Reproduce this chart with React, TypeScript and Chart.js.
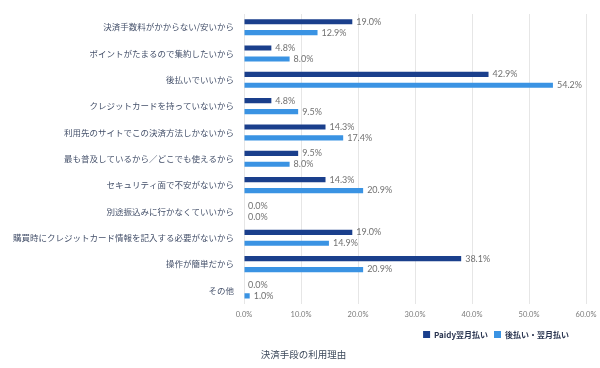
import React, { useEffect, useRef } from "react";
import { Chart, registerables } from "chart.js";

Chart.register(...registerables);

const categories = [
  "決済手数料がかからない/安いから",
  "ポイントがたまるので集約したいから",
  "後払いでいいから",
  "クレジットカードを持っていないから",
  "利用先のサイトでこの決済方法しかないから",
  "最も普及しているから／どこでも使えるから",
  "セキュリティ面で不安がないから",
  "別途振込みに行かなくていいから",
  "購買時にクレジットカード情報を記入する必要がないから",
  "操作が簡単だから",
  "その他",
];
const paidyValues = [19.0, 4.8, 42.9, 4.8, 14.3, 9.5, 14.3, 0.0, 19.0, 38.1, 0.0];
const otherValues = [12.9, 8.0, 54.2, 9.5, 17.4, 8.0, 20.9, 0.0, 14.9, 20.9, 1.0];
const seriesNames = ["Paidy翌月払い", "後払い・翌月払い"];
const chartTitle = "決済手段の利用理由";

const FONT = "'Noto Sans CJK JP', 'Noto Sans', Lato, sans-serif";

const valueLabels = {
  id: "valueLabels",
  afterLayout(chart: any) {
    if (chart.legend) {
      chart.legend.right -= 11;
      chart.legend.left -= 11;
    }
    if (chart.titleBlock) {
      chart.titleBlock.right += 9;
      chart.titleBlock.left += 9;
    }
  },
  afterDatasetsDraw(chart: any) {
    const ctx = chart.ctx;
    ctx.save();
    ctx.font = `9px Lato, 'Noto Sans', sans-serif`;
    ctx.fillStyle = "#717171";
    ctx.textBaseline = "middle";
    ctx.textAlign = "left";
    chart.data.datasets.forEach((ds: any, i: number) => {
      const meta = chart.getDatasetMeta(i);
      meta.data.forEach((bar: any, j: number) => {
        const v = ds.data[j] as number;
        ctx.fillText(v.toFixed(1) + "%", bar.x + 4, bar.y);
      });
    });
    ctx.restore();
  },
};

export default function App() {
  const ref = useRef<HTMLCanvasElement>(null);
  useEffect(() => {
    const chart = new Chart(ref.current!, {
      type: "bar",
      data: {
        labels: categories,
        datasets: [
          {
            label: seriesNames[0],
            data: paidyValues,
            backgroundColor: "#1a3f8c",
            categoryPercentage: 0.83,
            barPercentage: 0.47,
          },
          {
            label: seriesNames[1],
            data: otherValues,
            backgroundColor: "#3a93e3",
            categoryPercentage: 0.83,
            barPercentage: 0.47,
          },
        ],
      },
      options: {
        indexAxis: "y",
        animation: false,
        responsive: false,
        maintainAspectRatio: false,
        layout: { padding: { top: 14, right: 14, left: 3, bottom: 6 } },
        scales: {
          x: {
            min: 0,
            max: 60,
            afterFit: (s: any) => {
              s.paddingRight = 0;
              s.paddingLeft = 0;
            },
            ticks: {
              stepSize: 10,
              callback: (v: any) => Number(v).toFixed(1) + "%",
              color: "#7a7a7a",
              font: { family: "Lato, 'Noto Sans', sans-serif", size: 7.5 },
              padding: 6,
            },
            grid: { color: "#e6e6e6", drawTicks: false },
            border: { display: false },
          },
          y: {
            afterFit: (s: any) => {
              s.paddingTop = 0;
              s.paddingBottom = 0;
            },
            ticks: {
              color: "#44506a",
              font: { family: FONT, size: 8.5 },
              padding: 10,
              autoSkip: false,
            },
            grid: { display: false, drawTicks: false },
            border: { display: true, color: "#e6e6e6" },
          },
        },
        plugins: {
          legend: {
            position: "bottom",
            align: "end",
            labels: {
              boxWidth: 7,
              boxHeight: 7,
              padding: 6,
              color: "#2a3550",
              font: { family: FONT, size: 8, weight: "bold" },
            },
          },
          title: {
            display: true,
            text: chartTitle,
            position: "bottom",
            color: "#3d4a5c",
            font: { family: FONT, size: 9.5, weight: "normal" },
            padding: { top: 0, bottom: 2 },
          },
          tooltip: { enabled: false },
        },
      },
      plugins: [valueLabels],
    });
    return () => chart.destroy();
  }, []);
  return (
    <div style={{ position: "fixed", left: 0, top: 0, width: 600, height: 368, background: "#fff" }}>
      <canvas ref={ref} width={600} height={368} />
    </div>
  );
}
